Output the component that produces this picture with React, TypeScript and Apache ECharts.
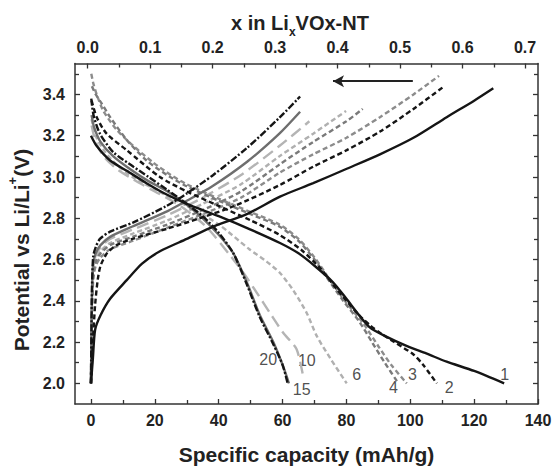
import React, { useEffect, useRef } from 'react';
import * as echarts from 'echarts';

const FONT = '"Liberation Sans", Arial, Helvetica, sans-serif';

// ---- axes ----
const capRange = [-5, 140];
const xTopRange = [-0.0203, 0.7208];
const vRange = [1.9, 3.55];
const xBottomMajor = [0, 20, 40, 60, 80, 100, 120, 140];
const xBottomMinor = [10, 30, 50, 70, 90, 110, 130];
const xTopMajor = [0, 0.1, 0.2, 0.3, 0.4, 0.5, 0.6, 0.7];
const xTopMinor = [0.05, 0.15, 0.25, 0.35, 0.45, 0.55, 0.65];
const yMajor = [2.0, 2.2, 2.4, 2.6, 2.8, 3.0, 3.2, 3.4];
const yMinor = [2.1, 2.3, 2.5, 2.7, 2.9, 3.1, 3.3, 3.5];

// ---- discharge curves (capacity, potential) ----
const d1 = [[0,3.20],[1.8,3.15],[6,3.08],[11.2,3.03],[17.4,2.97],[23.7,2.915],[30,2.87],[40,2.81],[50,2.745],[59.2,2.68],[65,2.63],[70,2.57],[75.8,2.49],[80,2.41],[84,2.33],[87.4,2.27],[92,2.23],[99,2.18],[105,2.145],[111.4,2.105],[120,2.06],[129.4,2.0]];
const d2 = [[0.2,3.37],[1.8,3.29],[4.9,3.21],[11.2,3.13],[21.6,3.0],[30,2.93],[40,2.86],[50,2.79],[59,2.72],[66,2.645],[72,2.555],[76,2.475],[80,2.40],[84,2.33],[87.5,2.28],[90.5,2.245],[95,2.20],[101,2.14],[104,2.09],[108.3,2.0]];
const d3 = [[0.1,3.50],[0.8,3.45],[1.8,3.40],[3.9,3.32],[8,3.23],[13.3,3.15],[19.5,3.07],[25,3.01],[30,2.965],[40,2.895],[50,2.83],[59,2.77],[65,2.70],[70,2.61],[74.9,2.50],[80,2.39],[85.3,2.29],[90,2.18],[94,2.09],[98.9,2.0]];
const d4 = [[0.3,3.44],[1.5,3.40],[3.4,3.355],[6,3.29],[11.2,3.18],[17.4,3.08],[24.8,3.0],[30,2.955],[40,2.885],[50,2.82],[59,2.76],[65,2.69],[70,2.60],[74,2.51],[79,2.40],[84,2.30],[88,2.20],[92,2.10],[96.3,2.0]];
const d6 = [[0.2,3.28],[1.5,3.20],[4,3.13],[8,3.06],[13,3.0],[20,2.94],[30,2.86],[40,2.77],[49.6,2.65],[55,2.59],[59.2,2.535],[63.4,2.45],[67.6,2.34],[70.7,2.23],[75,2.12],[80.1,2.0]];
const d10 = [[0.2,3.25],[1.5,3.17],[4,3.10],[8,3.04],[13,2.99],[20,2.93],[28,2.86],[36,2.76],[43.6,2.62],[48,2.53],[51.9,2.44],[56.1,2.34],[60.2,2.245],[64.4,2.165],[66.5,2.03]];
const d15 = [[0.2,3.30],[1,3.24],[3,3.17],[7,3.10],[13,3.03],[18,2.98],[24,2.93],[30,2.865],[35,2.80],[40,2.72],[44.6,2.63],[48.8,2.49],[52.9,2.33],[57.1,2.2],[60,2.09],[62,2.0]];
const d20 = [[0.1,3.38],[0.8,3.30],[2.8,3.21],[7,3.12],[13.3,3.05],[18,3.0],[23.7,2.94],[30,2.87],[35,2.81],[40,2.73],[44.6,2.63],[48.8,2.48],[52.9,2.32],[57.1,2.19],[60,2.09],[61.6,2.0]];

// ---- charge curves ----
const c1 = [[0,2.0],[0.6,2.12],[1.3,2.26],[3,2.33],[6,2.41],[11.2,2.50],[16,2.58],[21.6,2.64],[30,2.70],[38.3,2.76],[48.8,2.82],[59.2,2.905],[69.6,2.97],[80.1,3.04],[90.5,3.11],[101,3.19],[111.4,3.29],[120,3.37],[126,3.43]];
const c2 = [[0,2.0],[0.6,2.2],[1.3,2.38],[2.1,2.50],[3,2.57],[5,2.63],[8,2.67],[13,2.70],[24,2.75],[34,2.80],[45,2.86],[59,2.96],[69.6,3.05],[80.1,3.13],[90.5,3.22],[101,3.33],[110.4,3.437]];
const c3 = [[0,2.0],[0.3,2.3],[0.7,2.50],[1.5,2.57],[3,2.61],[6,2.65],[13,2.69],[24,2.755],[35,2.82],[47,2.90],[59,3.02],[69.6,3.11],[80,3.19],[90.5,3.29],[101,3.40],[109,3.49]];
const c4 = [[0,2.0],[0.3,2.35],[0.7,2.53],[1.5,2.59],[3,2.63],[6,2.67],[13,2.71],[24,2.77],[35,2.84],[47,2.93],[59,3.06],[69.6,3.17],[80,3.27],[85.1,3.33]];
const c6 = [[0,2.0],[0.3,2.38],[0.7,2.55],[1.5,2.60],[3,2.64],[6,2.68],[13,2.725],[24,2.79],[35,2.87],[47,2.965],[59,3.10],[69.6,3.21],[79.9,3.32]];
const c10 = [[0,2.0],[0.3,2.4],[0.7,2.57],[1.5,2.62],[3,2.66],[6,2.70],[13,2.745],[24,2.815],[35,2.90],[47,3.01],[59,3.15],[68.4,3.27]];
const c15 = [[0,2.0],[0.3,2.42],[0.7,2.58],[1.5,2.63],[3,2.67],[6,2.71],[13,2.76],[24,2.835],[30,2.885],[38,2.955],[49,3.075],[59,3.21],[65.5,3.316]];
const c20 = [[0,2.0],[0.3,2.45],[0.7,2.615],[1.5,2.66],[2.8,2.70],[6,2.735],[13.3,2.78],[23.7,2.86],[30,2.92],[38.3,3.01],[48.8,3.14],[59.2,3.29],[65.5,3.39]];

// ---- cycle labels ----
const labelText = ['1', '2', '3', '4', '6', '10', '15', '20'];
const labelCap = [129.6, 112.2, 100.7, 94.7, 83.2, 67.6, 66, 55.5];
const labelV = [2.043, 1.979, 2.043, 1.979, 2.043, 2.113, 1.971, 2.116];

// ---- arrow ----
const arrowFrom = [100.8, 3.464];
const arrowTo = [75.8, 3.464];

const BLACK = '#151515';
const curves: { name: string; d: number[][]; c: number[][]; color: string; dash: any }[] = [
  { name: '10', d: d10, c: c10, color: '#b4b4b4', dash: [12, 6] },
  { name: '6', d: d6, c: c6, color: '#b0b0b0', dash: [5, 3] },
  { name: '3', d: d3, c: c3, color: '#8c8c8c', dash: [5, 3] },
  { name: '4', d: d4, c: c4, color: '#7a7a7a', dash: [5, 3] },
  { name: '15', d: d15, c: c15, color: '#6e6e6e', dash: 'solid' },
  { name: '2', d: d2, c: c2, color: BLACK, dash: [5, 3] },
  { name: '20', d: d20, c: c20, color: BLACK, dash: [7, 2, 2, 2] },
  { name: '1', d: d1, c: c1, color: BLACK, dash: 'solid' },
];

const tickStyle = { color: '#333', width: 1.3 };
const labelStyle = { color: '#222', fontSize: 16, fontWeight: 'bold' as const, fontFamily: FONT };

function xAx(position: string, range: number[], ticks: number[], len: number, withLabel: boolean, fmt: (v: number) => string, line: boolean) {
  return {
    type: 'value', position, min: range[0], max: range[1], gridIndex: 0,
    splitLine: { show: false },
    axisLine: { show: line, onZero: false, lineStyle: { color: '#333', width: 1.5 } },
    axisTick: { show: true, inside: true, length: len, customValues: ticks, lineStyle: tickStyle },
    axisLabel: withLabel ? { show: true, customValues: ticks, formatter: fmt, margin: 8, ...labelStyle } : { show: false },
  };
}
function yAx(position: string, ticks: number[], len: number, withLabel: boolean, line: boolean) {
  return {
    type: 'value', position, min: vRange[0], max: vRange[1], gridIndex: 0,
    splitLine: { show: false },
    axisLine: { show: line, onZero: false, lineStyle: { color: '#333', width: 1.5 } },
    axisTick: { show: true, inside: true, length: len, customValues: ticks, lineStyle: tickStyle },
    axisLabel: withLabel ? { show: true, customValues: ticks, formatter: (v: number) => v.toFixed(1), margin: 10, ...labelStyle } : { show: false },
  };
}

export default function App() {
  const ref = useRef<HTMLDivElement>(null);
  useEffect(() => {
    if (!ref.current) return;
    const chart = echarts.init(ref.current, undefined, { renderer: 'svg' });
    const series: any[] = [];
    curves.forEach((cv) => {
      [cv.d, cv.c].forEach((data, k) => {
        series.push({
          type: 'line', name: 'cycle ' + cv.name + (k ? ' charge' : ' discharge'),
          data, xAxisIndex: 0, yAxisIndex: 0,
          showSymbol: false, symbol: 'none', smooth: 0.25,
          lineStyle: { color: cv.color, width: 2.4, type: cv.dash },
          silent: true,
        });
      });
    });
    series.push({
      type: 'scatter', xAxisIndex: 0, yAxisIndex: 0, symbolSize: 0, silent: true,
      itemStyle: { color: '#222' },
      data: labelText.map((t, i) => [labelCap[i], labelV[i], t]),
      label: {
        show: true, position: 'inside', formatter: (p: any) => p.data[2],
        color: '#222', fontSize: 16, fontFamily: FONT, textBorderWidth: 0, textBorderColor: 'transparent',
      },
      markLine: {
        silent: true, symbol: ['none', 'arrow'], symbolSize: [9, 11],
        lineStyle: { color: '#222', width: 2, type: 'solid' },
        label: { show: false },
        data: [[{ coord: arrowFrom }, { coord: arrowTo }]],
      },
    });
    chart.setOption({
      animation: false,
      backgroundColor: '#fff',
      grid: { left: 75, top: 63.5, width: 463, height: 340.5, containLabel: false },
      xAxis: [
        xAx('bottom', capRange, xBottomMajor, 5, true, (v) => String(v), true),
        xAx('bottom', capRange, xBottomMinor, 4, false, (v) => String(v), false),
        xAx('top', xTopRange, xTopMajor, 5, true, (v) => v.toFixed(1), true),
        xAx('top', xTopRange, xTopMinor, 4, false, (v) => String(v), false),
      ],
      yAxis: [
        yAx('left', yMajor, 5, true, true),
        yAx('left', yMinor, 4, false, false),
        yAx('right', yMajor, 5, false, true),
        yAx('right', yMinor, 4, false, false),
      ],
      series,
      graphic: [
        {
          type: 'text', x: 300, y: 22.5,
          style: {
            text: '{a|x in Li}{s|x}{a|VOx-NT}', align: 'center', verticalAlign: 'middle', fill: '#222',
            rich: {
              a: { fontSize: 20, fontWeight: 'bold', fontFamily: FONT, lineHeight: 30, fill: '#222' },
              s: { fontSize: 12, fontWeight: 'bold', fontFamily: FONT, lineHeight: 12, verticalAlign: 'bottom', fill: '#222' },
            },
          },
        },
        {
          type: 'text', x: 306.5, y: 454,
          style: { text: 'Specific capacity (mAh/g)', fontSize: 21, fontWeight: 'bold', fontFamily: FONT, fill: '#222', align: 'center', verticalAlign: 'middle' },
        },
        {
          type: 'text', x: 21, y: 250, rotation: Math.PI / 2,
          style: {
            text: '{a|Potential vs Li/Li}{p|+}{a|(V)}', align: 'center', verticalAlign: 'middle', fill: '#222',
            rich: {
              a: { fontSize: 21, fontWeight: 'bold', fontFamily: FONT, lineHeight: 30, fill: '#222' },
              p: { fontSize: 13, fontWeight: 'bold', fontFamily: FONT, lineHeight: 13, verticalAlign: 'top', fill: '#222' },
            },
          },
        },
      ],
    });
    return () => chart.dispose();
  }, []);
  return <div ref={ref} style={{ position: 'fixed', left: 0, top: 0, width: 557, height: 472 }} />;
}
